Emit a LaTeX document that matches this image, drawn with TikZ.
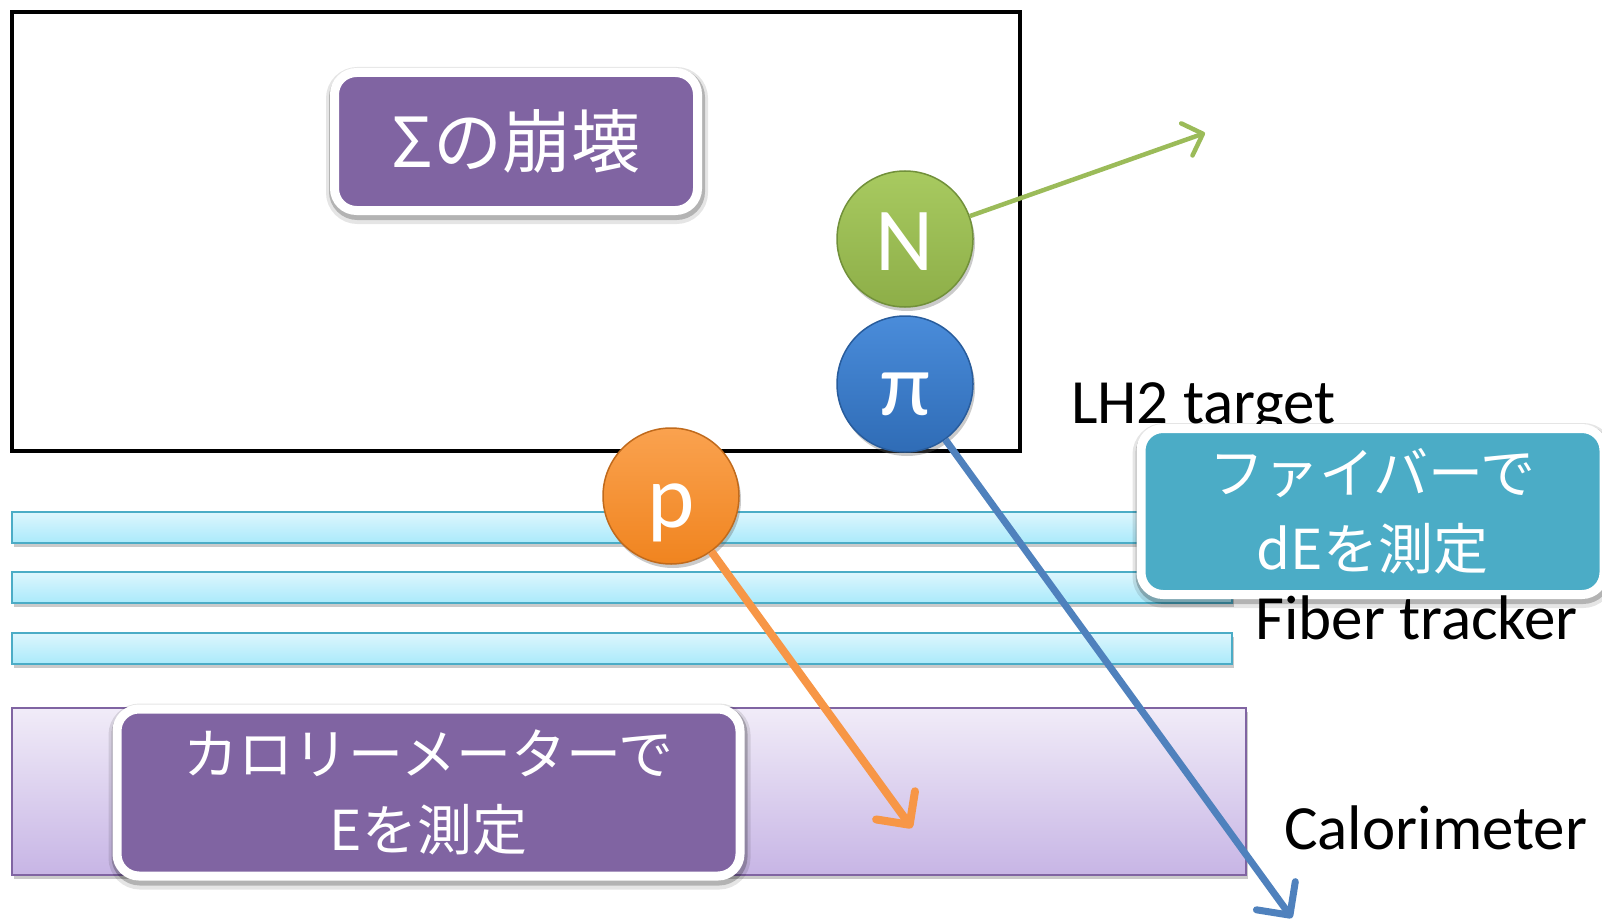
\documentclass[tikz,border=0pt]{standalone}
\usepackage{fontspec}
\setmainfont{Carlito}
\newfontfamily\jp{Noto Sans CJK JP}
\usetikzlibrary{arrows.meta,shadows}
\definecolor{boxpurple}{HTML}{8064A2}
\definecolor{boxteal}{HTML}{4BACC6}
\definecolor{calotop}{HTML}{F1ECF8}
\definecolor{calobot}{HTML}{C7B5E5}
\definecolor{bartop}{HTML}{DDF6FD}
\definecolor{barbot}{HTML}{AAEAFB}
\definecolor{garr}{HTML}{9BBB59}
\definecolor{oarr}{HTML}{F79646}
\definecolor{barr}{HTML}{4F81BD}
\definecolor{gtop}{HTML}{A8CA60}
\definecolor{gbot}{HTML}{8DAE48}
\definecolor{gline}{HTML}{71903A}
\definecolor{btop}{HTML}{4A8CDA}
\definecolor{bbot}{HTML}{2F6CB6}
\definecolor{bline}{HTML}{285C9C}
\definecolor{otop}{HTML}{FAA24F}
\definecolor{obot}{HTML}{F0841F}
\definecolor{oline}{HTML}{C06A1C}
\tikzset{
  softshadow/.style={drop shadow={opacity=0.35, shadow xshift=2pt, shadow yshift=-4pt, fill=black!60}},
  halo/.style={
    drop shadow={opacity=0.10, shadow xshift=1pt, shadow yshift=-4pt, draw=black, line width=19pt, fill=black},
    drop shadow={opacity=0.22, shadow xshift=1pt, shadow yshift=-3pt, draw=black, line width=13pt, fill=black}},
  labelbox/.style={rectangle, rounded corners=22pt, draw=white, line width=9pt, inner sep=0pt, halo, text=white, align=center, font=\jp\fontsize{55}{76}\selectfont},
  barbox/.style={rectangle, draw=boxteal, line width=2pt, top color=bartop, bottom color=barbot, minimum width=1220pt, minimum height=31pt, inner sep=0pt, softshadow},
  particle/.style={circle, minimum size=136pt, inner sep=0pt, line width=1.5pt, text=white, text height=62pt, text depth=0pt, softshadow, font=\fontsize{90}{90}\selectfont},
  plainlabel/.style={anchor=base west, inner sep=0pt, font=\fontsize{63}{63}\selectfont, text=black},
  tiparrow/.style={-{Straight Barb[length=#1, width=2*#1, line cap=round, line join=round]}}
}
\begin{document}
\begin{tikzpicture}[x=1pt,y=-1pt]
\useasboundingbox (0,0) rectangle (1602,920);

% LH2 target frame
\node[rectangle, draw=black, line width=4pt, minimum width=1008pt, minimum height=439pt, inner sep=0pt] (target) at (516,231.5) {};
\node[plainlabel] (lh2) at (1071,423) {LH2 target};

% decay label
\node[labelbox, fill=boxpurple, minimum width=363pt, minimum height=138pt, font=\jp\fontsize{69}{69}\selectfont] (sigma) at (516,141.5) {Σの崩壊};

% fiber tracker bars
\node[barbox] (bar1) at (622,527.5) {};
\node[barbox] (bar2) at (622,587.5) {};
\node[barbox] (bar3) at (622,648.5) {};

% calorimeter
\node[rectangle, draw=boxpurple, line width=1.5pt, top color=calotop, bottom color=calobot, minimum width=1234pt, minimum height=167pt, inner sep=0pt, softshadow] (calo) at (629,791.5) {};
\node[plainlabel] (calotext) at (1284,849) {Calorimeter};

% label boxes
\node[labelbox, fill=boxteal, minimum width=463pt, minimum height=166pt] (fiberbox) at (1372.5,511.5) {ファイバーで\\dEを測定};
\node[plainlabel] (fiber) at (1255,639) {Fiber tracker};
\node[labelbox, fill=boxpurple, minimum width=623pt, minimum height=167pt] (calobox) at (428.5,792.5) {カロリーメーターで\\Eを測定};

% particles
\node[particle, draw=gline, top color=gtop, bottom color=gbot] (N) at (905,239) {N};
\node[particle, draw=bline, top color=btop, bottom color=bbot] (pi) at (905,384) {π};
\node[particle, draw=oline, top color=otop, bottom color=obot] (p) at (671,496) {p};

% arrow tips
\coordinate (gtip) at (1205,133);
\coordinate (otip) at (912,828);
\coordinate (btip) at (1292,918);

\draw[garr, line width=4.5pt, tiparrow=17pt] (N) -- (gtip);
\draw[oarr, line width=8pt, tiparrow=24pt] (p) -- (otip);
\draw[barr, line width=7pt, tiparrow=24pt] (pi) -- (btip);
\end{tikzpicture}
\end{document}
